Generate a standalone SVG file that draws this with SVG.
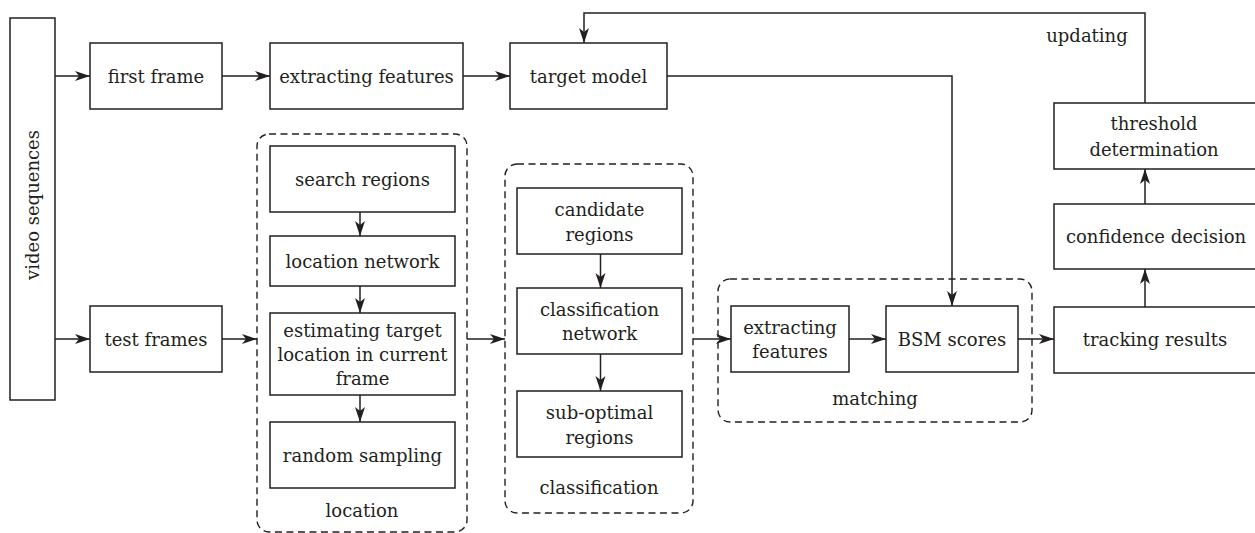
<svg xmlns="http://www.w3.org/2000/svg" width="1255" height="533" viewBox="0 0 1255 533">
<style>
.box{fill:#fff;stroke:#231f20;stroke-width:1.5}
.grp{fill:none;stroke:#231f20;stroke-width:1.4;stroke-dasharray:7 4.5}
.t{font-family:"DejaVu Serif","Liberation Serif",serif;font-size:18px;fill:#231f20;text-anchor:middle;dominant-baseline:central}
.c{fill:none;stroke:#231f20;stroke-width:1.5}
</style>
<defs>
<marker id="ah" markerUnits="userSpaceOnUse" markerWidth="16" markerHeight="12" refX="15" refY="5" orient="auto">
<path d="M0,0 L15,5 L0,10 L4,5 Z" fill="#231f20"/>
</marker>
</defs>
<rect width="1255" height="533" fill="#fff"/>

<g id="group-location"><rect class="grp" x="257" y="134" width="210" height="398" rx="12"/><text class="t" x="362" y="510">location</text></g>
<g id="group-classification"><rect class="grp" x="505" y="164" width="188" height="349" rx="12"/><text class="t" x="599" y="487">classification</text></g>
<g id="group-matching"><rect class="grp" x="718" y="279" width="314" height="143" rx="12"/><text class="t" x="875" y="398">matching</text></g>

<g id="video"><rect class="box" x="10" y="18" width="45" height="382"/><text class="t" transform="translate(32,205) rotate(-90)">video sequences</text></g>
<g id="first-frame"><rect class="box" x="90" y="43" width="132" height="66"/><text class="t" x="156" y="76">first frame</text></g>
<g id="extracting1"><rect class="box" x="270" y="43" width="193" height="66"/><text class="t" x="366.5" y="76">extracting features</text></g>
<g id="target-model"><rect class="box" x="510" y="43" width="157" height="66"/><text class="t" x="588.5" y="76">target model</text></g>
<g id="test-frames"><rect class="box" x="90" y="306" width="132" height="66"/><text class="t" x="156" y="339">test frames</text></g>
<g id="search-regions"><rect class="box" x="270" y="146" width="185" height="66"/><text class="t" x="362.5" y="179">search regions</text></g>
<g id="location-network"><rect class="box" x="270" y="236" width="185" height="50"/><text class="t" x="362.5" y="261">location network</text></g>
<g id="estimating"><rect class="box" x="270" y="313" width="185" height="82"/><text class="t" x="362.5" y="330">estimating target</text><text class="t" x="362.5" y="354">location in current</text><text class="t" x="362.5" y="378">frame</text></g>
<g id="random-sampling"><rect class="box" x="270" y="422" width="185" height="66"/><text class="t" x="362.5" y="455">random sampling</text></g>
<g id="candidate"><rect class="box" x="517" y="188" width="165" height="66"/><text class="t" x="599.5" y="209">candidate</text><text class="t" x="599.5" y="234">regions</text></g>
<g id="class-network"><rect class="box" x="517" y="288" width="165" height="66"/><text class="t" x="599.5" y="309">classification</text><text class="t" x="599.5" y="333">network</text></g>
<g id="sub-optimal"><rect class="box" x="517" y="391" width="165" height="66"/><text class="t" x="599.5" y="412">sub-optimal</text><text class="t" x="599.5" y="437">regions</text></g>
<g id="extracting2"><rect class="box" x="731" y="306" width="118" height="66"/><text class="t" x="790" y="327">extracting</text><text class="t" x="790" y="351">features</text></g>
<g id="bsm"><rect class="box" x="886" y="306" width="132" height="66"/><text class="t" x="952" y="339">BSM scores</text></g>
<g id="tracking"><rect class="box" x="1054" y="307" width="210" height="66"/><text class="t" x="1155" y="339">tracking results</text></g>
<g id="confidence"><rect class="box" x="1054" y="204" width="210" height="65"/><text class="t" x="1156" y="236">confidence decision</text></g>
<g id="threshold"><rect class="box" x="1054" y="103" width="210" height="66"/><text class="t" x="1154" y="123">threshold</text><text class="t" x="1154" y="149">determination</text></g>

<g id="connectors">
<path class="c" marker-end="url(#ah)" d="M55,76 H90"/>
<path class="c" marker-end="url(#ah)" d="M222,76 H270"/>
<path class="c" marker-end="url(#ah)" d="M463,76 H510"/>
<path class="c" marker-end="url(#ah)" d="M667,76 H952 V306"/>
<path class="c" marker-end="url(#ah)" d="M1145,103 V13 H584 V43"/>
<text class="t" x="1087" y="35">updating</text>
<path class="c" marker-end="url(#ah)" d="M55,339 H90"/>
<path class="c" marker-end="url(#ah)" d="M222,339 H257"/>
<path class="c" marker-end="url(#ah)" d="M467,339 H505"/>
<path class="c" marker-end="url(#ah)" d="M693,339 H731"/>
<path class="c" marker-end="url(#ah)" d="M849,339 H886"/>
<path class="c" marker-end="url(#ah)" d="M1018,339 H1054"/>
<path class="c" marker-end="url(#ah)" d="M360,212 V236"/>
<path class="c" marker-end="url(#ah)" d="M360,286 V313"/>
<path class="c" marker-end="url(#ah)" d="M360,395 V422"/>
<path class="c" marker-end="url(#ah)" d="M600.5,254 V288"/>
<path class="c" marker-end="url(#ah)" d="M600.5,354 V391"/>
<path class="c" marker-end="url(#ah)" d="M1145,307 V269"/>
<path class="c" marker-end="url(#ah)" d="M1145,204 V169"/>
</g>
</svg>
